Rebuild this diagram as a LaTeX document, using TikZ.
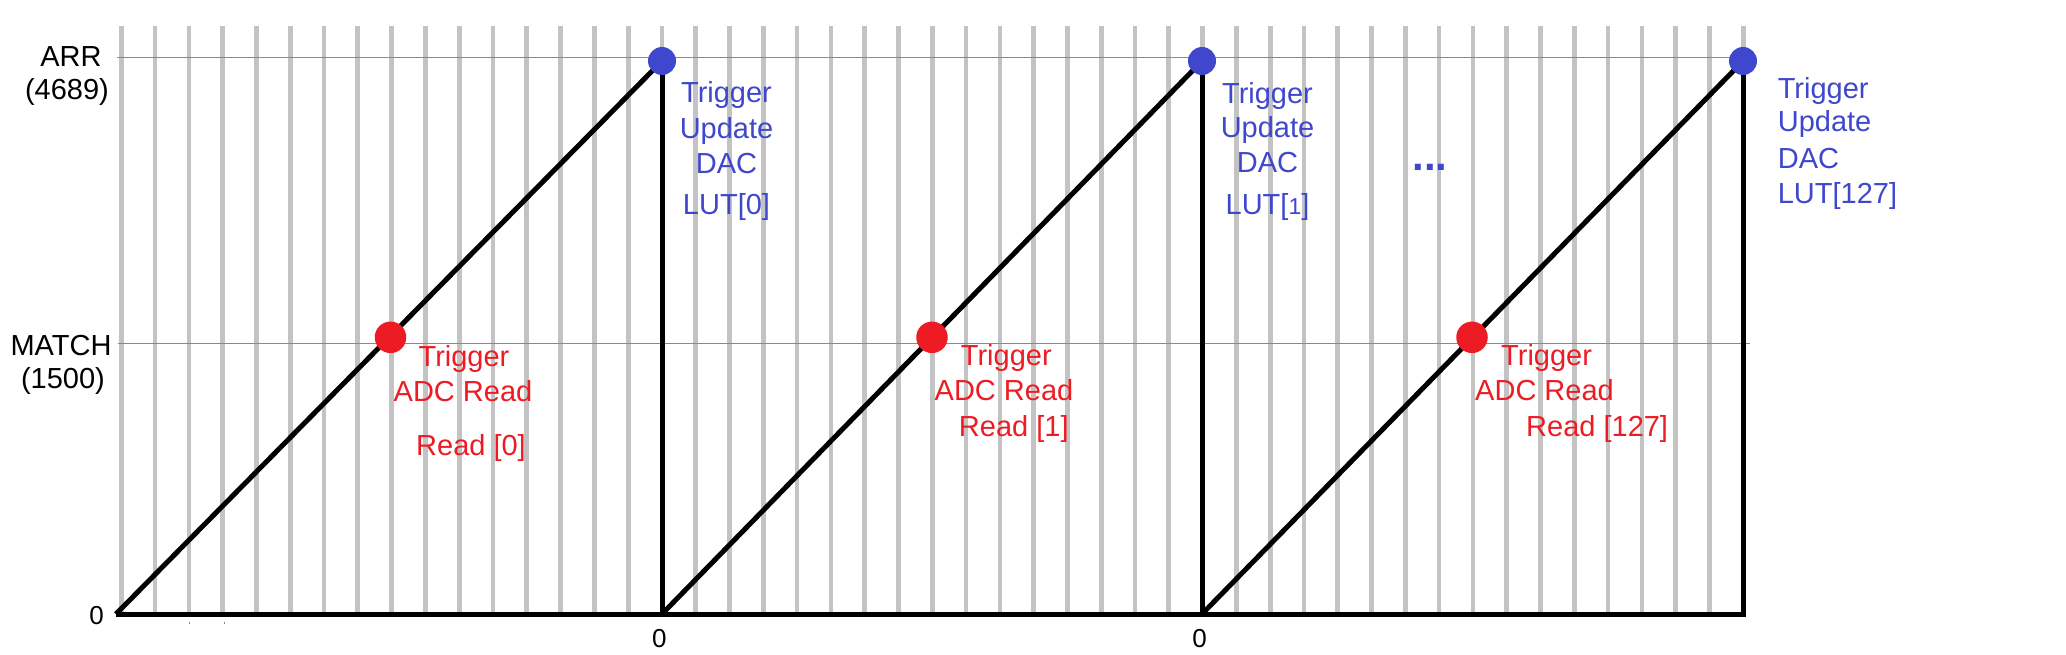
\documentclass[tikz,border=0pt]{standalone}
\usepackage{fontspec}
\setmainfont{Liberation Sans}
\definecolor{pgray}{HTML}{C3C3C3}
\definecolor{pbrown}{HTML}{B97A57}
\definecolor{pred}{HTML}{ED1C24}
\definecolor{pblue}{HTML}{3F48CC}
\pgfdeclarelayer{back}
\pgfdeclarelayer{mid}
\pgfsetlayers{back,mid,main}
\begin{document}
\begin{tikzpicture}[x=1pt,y=-1pt,
  gridline/.style={pgray,line width=4.7pt},
  level/.style={pbrown,line width=1.4pt},
  saw/.style={black,line width=5pt},
  bdot/.style={circle,fill=pblue,minimum size=28pt,inner sep=0pt},
  rdot/.style={circle,fill=pred,minimum size=31.5pt,inner sep=0pt},
  lbl/.style={inner sep=0pt,font=\fontsize{29}{35}\selectfont},
  bl/.style={lbl,text=pblue},
  rl/.style={lbl,text=pred},
  axl/.style={lbl,text=black},
  zl/.style={inner sep=0pt,font=\fontsize{26}{30}\selectfont,anchor=base},
  tick/.style={gray,line width=1pt},
]
\useasboundingbox (0,0) rectangle (2066,654);

% dots
\node[bdot] (b1) at (662,61) {};
\node[bdot] (b2) at (1202,61) {};
\node[bdot] (b3) at (1743,61) {};
\node[rdot] (r1) at (390.5,337.3) {};
\node[rdot] (r2) at (932,337.3) {};
\node[rdot] (r3) at (1472,337.3) {};

\coordinate (o0) at (116,614);
\coordinate (o1) at (662,614);
\coordinate (o2) at (1202,614);
\coordinate (o3) at (1743,614);
\coordinate (aend) at (1746,614);
\coordinate (arrs) at (117,57.3);
\coordinate (arre) at (1743,57.3);
\coordinate (mats) at (118,343.3);
\coordinate (mate) at (1750,343.3);

\begin{pgfonlayer}{back}
\fill[white] (0,0) rectangle (2066,654);
\foreach \k in {0,...,48}
  \draw[gridline] ({121.3+33.79*\k},26) -- ({121.3+33.79*\k},614);
\draw[level] (arrs) -- (arre);
\draw[level] (mats) -- (mate);
\draw[tick] (189.3,621.5) -- (189.3,624);
\draw[tick] (224.3,621.5) -- (224.3,624);
\end{pgfonlayer}

\begin{pgfonlayer}{mid}
\draw[saw] (o0) -- (aend);
\draw[saw] (o0) -- (b1.center);
\draw[saw] (b1.center) -- (o1);
\draw[saw] (o1) -- (b2.center);
\draw[saw] (b2.center) -- (o2);
\draw[saw] (o2) -- (b3.center);
\draw[saw] (b3.center) -- (o3);
\end{pgfonlayer}

% axis labels
\node[axl,anchor=base] (arr) at (71,66.7) {ARR};
\node[axl,anchor=base] (arrv) at (67,99) {(4689)};
\node[axl,anchor=base] (match) at (61,355) {MATCH};
\node[axl,anchor=base] (matchv) at (63,388) {(1500)};
\node[zl] (z0) at (96.7,624) {0};
\node[zl] (z1) at (659.3,647.3) {0};
\node[zl] (z2) at (1199.5,647.3) {0};

% blue labels
\node[bl,anchor=base] (bt1) at (726.5,102.7) {Trigger};
\node[bl,anchor=base] (bu1) at (726.5,138.3) {Update};
\node[bl,anchor=base] (bd1) at (726.5,173.3) {DAC};
\node[bl,anchor=base] (bl1) at (726.5,214.3) {LUT[0]};
\node[bl,anchor=base] (bt2) at (1267.5,103.3) {Trigger};
\node[bl,anchor=base] (bu2) at (1267.5,137.3) {Update};
\node[bl,anchor=base] (bd2) at (1267.5,172.7) {DAC};
\node[bl,anchor=base] (bl2) at (1267.5,214) {LUT[{\fontsize{23}{23}\selectfont 1}]};
\node[bl,anchor=base west] (bt3) at (1777.6,98.3) {Trigger};
\node[bl,anchor=base west] (bu3) at (1777.6,131.7) {Update};
\node[bl,anchor=base west] (bd3) at (1777.6,168.3) {DAC};
\node[bl,anchor=base west] (bl3) at (1777.6,203.3) {LUT[127]};
\node[bl,anchor=base,font=\fontsize{42}{44}\selectfont\bfseries] (dots) at (1430,170) {...};

% red labels
\node[rl,anchor=base] (rt1) at (464,366) {Trigger};
\node[rl,anchor=base] (ra1) at (463,401) {ADC Read};
\node[rl,anchor=base] (rr1) at (471,455) {Read [0]};
\node[rl,anchor=base] (rt2) at (1006.3,365) {Trigger};
\node[rl,anchor=base] (ra2) at (1004,400) {ADC Read};
\node[rl,anchor=base] (rr2) at (1013.8,436) {Read [1]};
\node[rl,anchor=base west] (rt3) at (1501,365) {Trigger};
\node[rl,anchor=base west] (ra3) at (1475,400) {ADC Read};
\node[rl,anchor=base west] (rr3) at (1526,436) {Read [127]};
\end{tikzpicture}
\end{document}
